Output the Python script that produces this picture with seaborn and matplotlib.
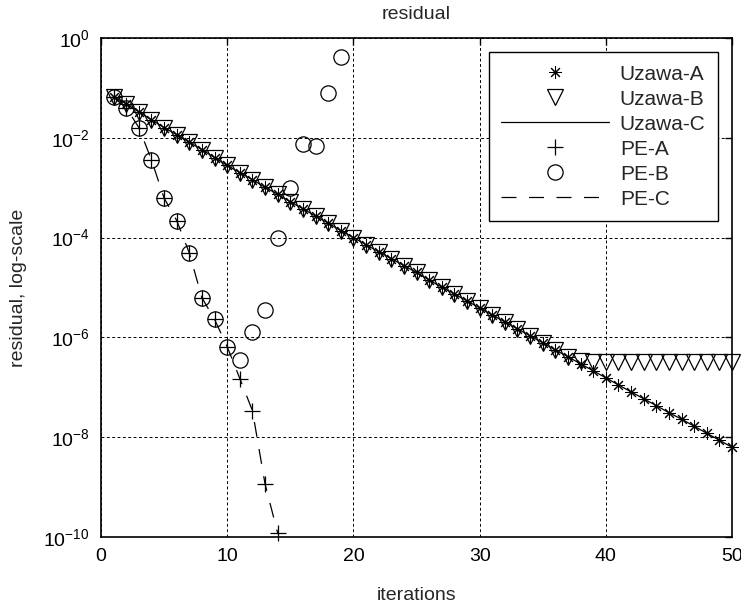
import numpy as np
import pandas as pd
import matplotlib
matplotlib.use("Agg")
import matplotlib.pyplot as plt
import seaborn as sns

# ---------------- data ----------------
iters_uzawa = list(range(1, 51))
uzawa_a = [6.6e-2, 4.8e-2, 3.3e-2, 2.3e-2, 1.6e-2, 1.15e-2, 8.1e-3, 5.8e-3, 4.0e-3, 2.8e-3,
           2.0e-3, 1.45e-3, 1.02e-3, 7.4e-4, 5.2e-4, 3.8e-4, 2.7e-4, 1.95e-4, 1.38e-4, 1.0e-4,
           7.2e-5, 5.2e-5, 3.8e-5, 2.75e-5, 2.0e-5, 1.41e-5, 1.02e-5, 7.4e-6, 5.4e-6, 3.9e-6,
           2.8e-6, 2.05e-6, 1.48e-6, 1.07e-6, 7.8e-7, 5.6e-7, 4.1e-7, 2.95e-7, 2.14e-7, 1.55e-7,
           1.12e-7, 8.1e-8, 5.9e-8, 4.3e-8, 3.1e-8, 2.3e-8, 1.66e-8, 1.2e-8, 8.7e-9, 6.3e-9]
uzawa_b = [6.6e-2, 4.8e-2, 3.3e-2, 2.3e-2, 1.6e-2, 1.15e-2, 8.1e-3, 5.8e-3, 4.0e-3, 2.8e-3,
           2.0e-3, 1.45e-3, 1.02e-3, 7.4e-4, 5.2e-4, 3.8e-4, 2.7e-4, 1.95e-4, 1.38e-4, 1.0e-4,
           7.2e-5, 5.2e-5, 3.8e-5, 2.75e-5, 2.0e-5, 1.41e-5, 1.02e-5, 7.4e-6, 5.4e-6, 3.9e-6,
           2.8e-6, 2.05e-6, 1.48e-6, 1.07e-6, 7.8e-7, 5.6e-7, 4.1e-7, 3.3e-7, 3.2e-7, 3.2e-7,
           3.2e-7, 3.2e-7, 3.2e-7, 3.2e-7, 3.2e-7, 3.2e-7, 3.2e-7, 3.2e-7, 3.2e-7, 3.2e-7]
uzawa_c = [6.6e-2, 4.8e-2, 3.3e-2, 2.3e-2, 1.6e-2, 1.15e-2, 8.1e-3, 5.8e-3, 4.0e-3, 2.8e-3,
           2.0e-3, 1.45e-3, 1.02e-3, 7.4e-4, 5.2e-4, 3.8e-4, 2.7e-4, 1.95e-4, 1.38e-4, 1.0e-4,
           7.2e-5, 5.2e-5, 3.8e-5, 2.75e-5, 2.0e-5, 1.41e-5, 1.02e-5, 7.4e-6, 5.4e-6, 3.9e-6,
           2.8e-6, 2.05e-6, 1.48e-6, 1.07e-6, 7.8e-7, 5.6e-7, 4.1e-7, 2.95e-7, 2.14e-7, 1.55e-7,
           1.12e-7, 8.1e-8, 5.9e-8, 4.3e-8, 3.1e-8, 2.3e-8, 1.66e-8, 1.2e-8, 8.7e-9, 6.3e-9]

iters_pe_a = list(range(1, 15))
pe_a = [6.6e-2, 4.0e-2, 1.6e-2, 3.6e-3, 6.2e-4, 2.2e-4, 4.9e-5, 6.2e-6, 2.3e-6, 6.5e-7,
        1.5e-7, 3.4e-8, 1.15e-9, 1.2e-10]
iters_pe_b = list(range(1, 20))
pe_b = [6.6e-2, 4.0e-2, 1.6e-2, 3.6e-3, 6.2e-4, 2.2e-4, 4.9e-5, 6.2e-6, 2.3e-6, 6.5e-7,
        3.5e-7, 1.3e-6, 3.5e-6, 1.0e-4, 1.0e-3, 7.6e-3, 6.9e-3, 7.9e-2, 4.2e-1]
iters_pe_c = list(range(1, 15))
pe_c = [6.6e-2, 4.0e-2, 1.6e-2, 3.6e-3, 6.2e-4, 2.2e-4, 4.9e-5, 6.2e-6, 2.3e-6, 6.5e-7,
        1.5e-7, 3.4e-8, 1.15e-9, 1.2e-10]

x_ticks = [0, 10, 20, 30, 40, 50]
y_exponents = [0, -2, -4, -6, -8, -10]

# ---------------- style ----------------
sns.set_style("white")
plt.rcParams["font.family"] = ["Liberation Sans", "DejaVu Sans"]
plt.rcParams["mathtext.default"] = "regular"
plt.rcParams["font.size"] = 14

fig = plt.figure(figsize=(7.41, 6.06), dpi=100)
ax = fig.add_axes([101 / 741, 69 / 606, 631 / 741, 499 / 606])

lw = 0.9
asterisk = (8, 2, 0)
common = dict(ax=ax, color="k", clip_on=False)

sns.lineplot(x=iters_uzawa, y=uzawa_a, linestyle="none",
             marker=asterisk, markersize=9, markeredgecolor="k",
             markeredgewidth=0.75, label="Uzawa-A", **common)
sns.lineplot(x=iters_uzawa, y=uzawa_b, linestyle="none",
             marker="v", markersize=12, markerfacecolor="none", markeredgecolor="k",
             markeredgewidth=lw, label="Uzawa-B", **common)
sns.lineplot(x=iters_uzawa, y=uzawa_c, linestyle="-", linewidth=lw,
             label="Uzawa-C", **common)
sns.lineplot(x=iters_pe_a, y=pe_a, linestyle="none",
             marker="+", markersize=11, markeredgecolor="k", markeredgewidth=lw,
             label="PE-A", **common)
sns.lineplot(x=iters_pe_b, y=pe_b, linestyle="none",
             marker="o", markersize=11, markerfacecolor="none", markeredgecolor="k",
             markeredgewidth=lw, label="PE-B", **common)
sns.lineplot(x=iters_pe_c, y=pe_c, linewidth=lw,
             linestyle=(0, (12, 10)), label="PE-C", **common)

ax.set_yscale("log")
ax.set_xlim(0, 50)
ax.set_ylim(1e-10, 1)
ax.set_xticks(x_ticks)
ax.set_xticklabels([str(t) for t in x_ticks])
ax.set_yticks([10.0 ** e for e in y_exponents])
ax.set_yticklabels([r"$10^{%d}$" % e for e in y_exponents])
ax.yaxis.set_minor_locator(matplotlib.ticker.NullLocator())

ax.grid(True, which="major", color="k", linestyle=(0, (3, 2.5)), linewidth=0.7)
ax.tick_params(direction="in", length=5, width=1, top=True, right=True,
               labelsize=14, pad=8, colors="k")
for s in ax.spines.values():
    s.set_color("k")
    s.set_linewidth(1.2)
    s.set_zorder(3)

ax.set_title("residual", fontsize=14, pad=14)
ax.set_xlabel("iterations", fontsize=14, labelpad=16)
ax.set_ylabel("residual, log-scale", fontsize=14, labelpad=12)

leg = ax.legend(loc="upper right", bbox_to_anchor=((718 - 101) / 631, (537 - 52) / 499),
                borderaxespad=0, frameon=True, fancybox=False, shadow=False,
                fontsize=15, handlelength=5.2, handletextpad=0.5, labelspacing=0.29,
                borderpad=0.6, numpoints=1)
leg.get_frame().set_edgecolor("k")
leg.get_frame().set_linewidth(1.0)
leg.get_frame().set_alpha(1)
leg.set_zorder(5)

fig.savefig("out.png", dpi=100)
